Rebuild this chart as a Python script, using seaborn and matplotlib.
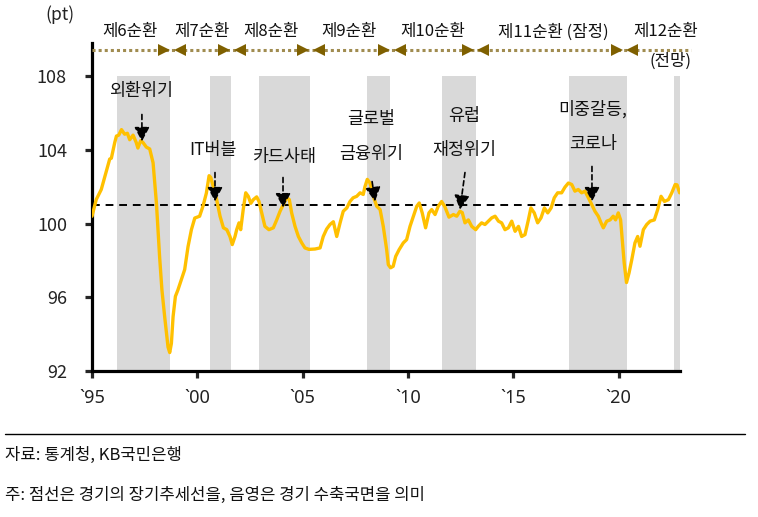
import matplotlib
matplotlib.use("Agg")
import matplotlib.pyplot as plt
import matplotlib.transforms as mtransforms
from matplotlib.lines import Line2D
import seaborn as sns
import pandas as pd

# ---- data ----
years = [
    1995.00, 1995.20, 1995.44, 1995.68, 1995.84, 1995.92, 1996.08, 1996.16, 1996.27, 1996.40,
    1996.55, 1996.68, 1996.79, 1996.95, 1997.10, 1997.18, 1997.31, 1997.42, 1997.58, 1997.74,
    1997.90, 1997.98, 1998.06, 1998.13, 1998.21, 1998.32, 1998.45, 1998.61, 1998.69, 1998.77,
    1998.85, 1998.96, 1999.08, 1999.24, 1999.40, 1999.56, 1999.72, 1999.88, 2000.11, 2000.27,
    2000.43, 2000.56, 2000.64, 2000.76, 2000.92, 2001.08, 2001.24, 2001.40, 2001.55, 2001.66,
    2001.79, 2001.87, 2001.98, 2002.06, 2002.18, 2002.30, 2002.42, 2002.54, 2002.66, 2002.82,
    2002.93, 2003.06, 2003.21, 2003.40, 2003.61, 2003.77, 2003.93, 2004.08, 2004.24, 2004.37,
    2004.48, 2004.64, 2004.80, 2004.96, 2005.11, 2005.30, 2005.59, 2005.83, 2005.98, 2006.14,
    2006.30, 2006.46, 2006.62, 2006.78, 2006.93, 2007.10, 2007.25, 2007.40, 2007.57, 2007.73,
    2007.88, 2007.96, 2008.07, 2008.20, 2008.36, 2008.52, 2008.68, 2008.83, 2008.99, 2009.07,
    2009.18, 2009.30, 2009.42, 2009.58, 2009.78, 2009.94, 2010.10, 2010.26, 2010.42, 2010.54,
    2010.68, 2010.84, 2011.00, 2011.13, 2011.29, 2011.44, 2011.60, 2011.76, 2011.95, 2012.16,
    2012.32, 2012.47, 2012.58, 2012.71, 2012.87, 2013.03, 2013.22, 2013.34, 2013.50, 2013.66,
    2013.82, 2013.98, 2014.14, 2014.30, 2014.45, 2014.61, 2014.77, 2014.93, 2015.09, 2015.25,
    2015.40, 2015.56, 2015.72, 2015.84, 2016.00, 2016.16, 2016.32, 2016.48, 2016.64, 2016.80,
    2016.95, 2017.11, 2017.30, 2017.46, 2017.62, 2017.78, 2017.93, 2018.09, 2018.25, 2018.41,
    2018.57, 2018.73, 2018.88, 2019.04, 2019.17, 2019.28, 2019.44, 2019.60, 2019.75, 2019.86,
    2019.99, 2020.10, 2020.18, 2020.27, 2020.38, 2020.50, 2020.63, 2020.78, 2020.91, 2021.02,
    2021.18, 2021.34, 2021.50, 2021.70, 2021.86, 2022.02, 2022.18, 2022.37, 2022.53, 2022.69,
    2022.78, 2022.90,
]
index_values = [
    100.40, 101.30, 101.85, 102.85, 103.50, 103.55, 104.40, 104.75, 104.80, 105.10,
    104.85, 104.90, 104.55, 104.80, 104.40, 104.10, 104.50, 104.40, 104.15, 104.05,
    103.30, 102.20, 101.10, 99.70, 98.20, 96.40, 94.95, 93.30, 93.00, 93.50,
    94.95, 96.05, 96.40, 96.95, 97.50, 98.75, 99.67, 100.30, 100.40, 100.95,
    101.65, 102.60, 102.50, 102.00, 101.30, 100.40, 99.77, 99.67, 99.30, 98.86,
    99.30, 99.67, 100.04, 99.67, 100.76, 101.67, 101.48, 101.10, 101.30, 101.45,
    101.20, 100.58, 99.85, 99.67, 99.77, 100.20, 100.67, 101.03, 101.40, 101.30,
    100.58, 99.85, 99.30, 98.95, 98.68, 98.60, 98.62, 98.68, 99.30, 99.70,
    99.95, 100.10, 99.30, 100.04, 100.67, 100.85, 101.20, 101.40, 101.48, 101.67,
    101.58, 102.00, 102.40, 102.20, 101.48, 100.94, 100.76, 99.85, 98.60, 97.77,
    97.60, 97.68, 98.22, 98.58, 98.95, 99.13, 99.85, 100.40, 100.94, 101.12,
    100.58, 99.77, 100.58, 100.76, 100.49, 100.94, 101.20, 100.90, 100.35, 100.49,
    100.40, 100.67, 100.60, 100.04, 100.20, 99.85, 99.67, 99.85, 100.04, 99.95,
    100.13, 100.31, 100.40, 100.13, 100.04, 99.67, 99.77, 100.13, 99.58, 99.85,
    99.30, 99.40, 100.20, 100.85, 100.58, 100.04, 100.31, 100.85, 100.58, 100.85,
    101.40, 101.67, 101.67, 101.98, 102.20, 102.12, 101.76, 101.85, 101.67, 101.76,
    101.40, 101.03, 100.67, 100.40, 100.04, 99.77, 100.13, 100.20, 100.40, 100.20,
    100.58, 100.20, 99.13, 97.86, 96.80, 97.32, 98.04, 98.95, 99.30, 98.77,
    99.67, 99.95, 100.13, 100.20, 100.76, 101.48, 101.20, 101.30, 101.67, 102.12,
    102.10, 101.67,
]
trend_level = 101.0

# contraction phases (shaded), decimal years
shade_start = [1996.2, 2000.6, 2002.95, 2008.04, 2011.6, 2017.66, 2022.65]
shade_end = [1998.7, 2001.6, 2005.35, 2009.15, 2013.23, 2020.4, 2022.92]

# cycle boundaries and labels
cycle_bounds = [1998.8, 2001.65, 2005.4, 2009.25, 2013.2, 2020.3]
cycle_labels = ["제6순환", "제7순환", "제8순환", "제9순환", "제10순환", "제11순환 (잠정)", "제12순환"]
cycle_label_x = [1996.8, 2000.2, 2003.5, 2007.2, 2011.2, 2016.9, 2022.25]

# event annotations
event_lines = [["외환위기"], ["IT버블"], ["카드사태"], ["글로벌", "금융위기"],
               ["유럽", "재정위기"], ["미중갈등,", "코로나"]]
event_text_x = [1997.33, 2000.75, 2004.16, 2008.25, 2012.68, 2018.78]
event_text_y = [[107.17], [104.0], [103.64], [105.7, 103.75], [105.82, 104.02], [106.2, 104.3]]
arrow_tail = [(1997.37, 105.92), (2000.84, 102.77), (2004.07, 102.5), (2008.3, 102.28),
              (2012.71, 102.77), (2018.74, 103.1)]
arrow_tip = [(1997.37, 104.46), (2000.84, 101.2), (2004.07, 100.87), (2008.44, 101.2),
             (2012.47, 100.76), (2018.74, 101.2)]

xtick_pos = [1995, 2000, 2005, 2010, 2015, 2020]
xtick_labels = ["`95", "`00", "`05", "`10", "`15", "`20"]
ytick_pos = [92, 96, 100, 104, 108]

# ---- styling ----
sns.set_style("white")
plt.rcParams["font.family"] = ["Noto Sans CJK KR", "DejaVu Sans"]

fig = plt.figure(figsize=(7.58, 5.17), dpi=100)
ax = fig.add_axes([92 / 758, 1 - 371 / 517, 588 / 758, 328 / 517])

XMIN, XMAX = 1995.0, 2022.92
YMIN, YMAX = 92.0, 109.8

for s, e in zip(shade_start, shade_end):
    ax.fill_between([s, e], YMIN, 108, color="#D9D9D9", lw=0, zorder=1)

ax.axhline(trend_level, color="black", lw=1.4, ls=(0, (4, 3)), zorder=2)

df = pd.DataFrame({"year": years, "value": index_values})
sns.lineplot(data=df, x="year", y="value", ax=ax, color="#FFC000", lw=2.4, zorder=3)

ax.set_xlim(XMIN, XMAX)
ax.set_ylim(YMIN, YMAX)
ax.set_xlabel("")
ax.set_ylabel("")
ax.set_xticks(xtick_pos)
ax.set_xticklabels(xtick_labels, fontfamily=["Noto Sans", "DejaVu Sans"])
ax.set_yticks(ytick_pos)
for sp in ["top", "right"]:
    ax.spines[sp].set_visible(False)
for sp in ["left", "bottom"]:
    ax.spines[sp].set_linewidth(2.3)
    ax.spines[sp].set_color("black")
ax.tick_params(axis="y", direction="out", length=5, width=2.3, pad=13,
               labelsize=13, labelcolor="#222222", left=True)
ax.tick_params(axis="x", direction="out", length=5, width=2.3, pad=8,
               labelsize=13, labelcolor="#222222", bottom=True)

# cycle band on top
band_y = 109.4
ax.plot([XMIN, 2023.45], [band_y, band_y], ls=(0, (1, 1)), color="#A08C50", lw=2.2,
        clip_on=False, zorder=4)
px = 5.5 / 72.0
for b in cycle_bounds:
    t_left = mtransforms.offset_copy(ax.transData, fig=fig, x=-px, y=0, units="inches")
    t_right = mtransforms.offset_copy(ax.transData, fig=fig, x=px, y=0, units="inches")
    ax.plot([b], [band_y], marker=">", ms=8.5, color="#7F6000", transform=t_left,
            clip_on=False, zorder=5, mew=0)
    ax.plot([b], [band_y], marker="<", ms=8.5, color="#7F6000", transform=t_right,
            clip_on=False, zorder=5, mew=0)
for lab, x in zip(cycle_labels, cycle_label_x):
    ax.text(x, 110.4, lab, ha="center", va="center", fontsize=12, color="#111111",
            clip_on=False)
ax.text(2022.45, 108.8, "(전망)", ha="center", va="center", fontsize=12,
        color="#111111", clip_on=False)

# events
for lines, tx, tys, tail, tip in zip(event_lines, event_text_x, event_text_y, arrow_tail, arrow_tip):
    for line, ty in zip(lines, tys):
        ax.text(tx, ty, line, ha="center", va="center", fontsize=12.5, color="#111111", zorder=6)
    ax.annotate("", xy=tip, xytext=tail,
                arrowprops=dict(arrowstyle="-|>,head_length=0.75,head_width=0.4",
                                mutation_scale=11.5, ls=(0, (3, 2)), lw=1.2, color="black",
                                shrinkA=0, shrinkB=0), zorder=6)

fig.text(60 / 758, 1 - 15 / 517, "(pt)", ha="center", va="center", fontsize=12.5, color="#222222")

# footer
fig.add_artist(Line2D([5 / 758, 745 / 758], [1 - 434 / 517, 1 - 434 / 517],
                      transform=fig.transFigure, color="black", lw=1.0))
fig.text(5 / 758, 1 - 455 / 517, "자료: 통계청, KB국민은행", ha="left", va="center",
         fontsize=12, color="#111111")
fig.text(5 / 758, 1 - 495 / 517, "주: 점선은 경기의 장기추세선을, 음영은 경기 수축국면을 의미",
         ha="left", va="center", fontsize=12, color="#111111")

fig.savefig("out.png", dpi=100)
